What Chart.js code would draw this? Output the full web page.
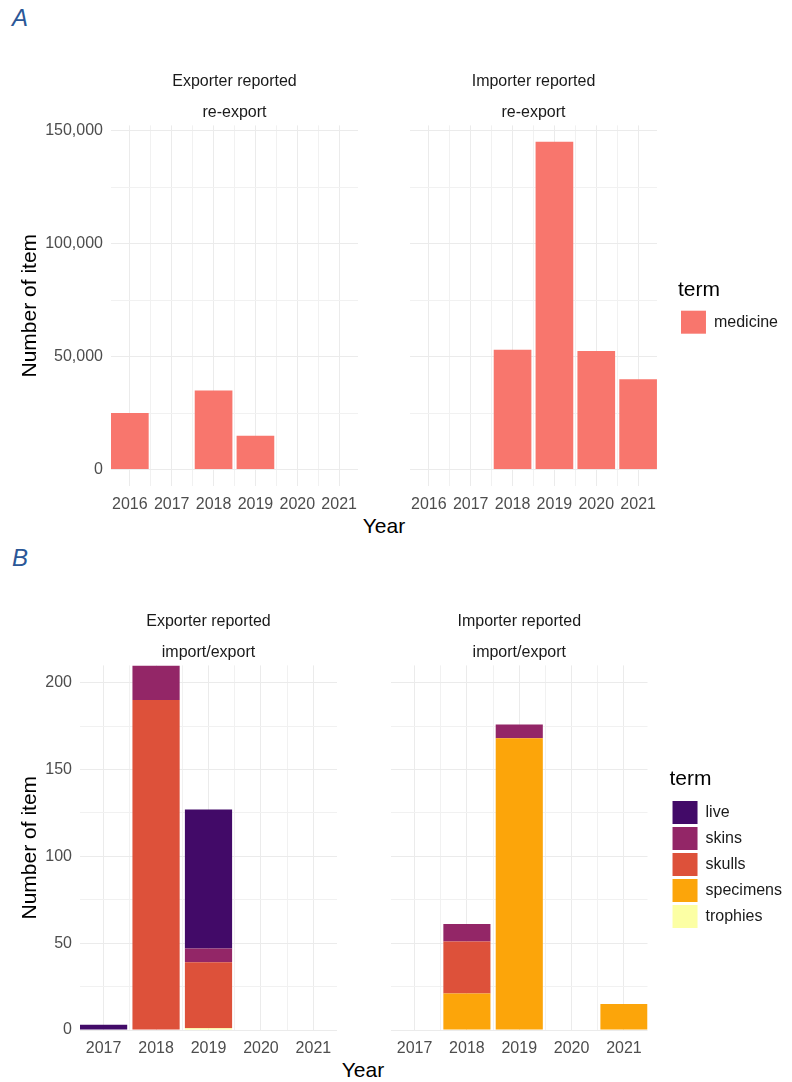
<!DOCTYPE html>
<html>
<head>
<meta charset="utf-8">
<title>Number of items by year and term</title>
<script src="https://cdn.jsdelivr.net/npm/chart.js@4.4.1/dist/chart.umd.min.js"></script>
<style>
  html, body { margin: 0; padding: 0; background: #ffffff; overflow: hidden; }
  body { position: relative; width: 792px; height: 1082px; font-family: "Liberation Sans", Arial, sans-serif; }
  canvas { position: absolute; }
  .tag { position: absolute; left: 12px; font-size: 24px; line-height: 24px; font-style: italic; color: #2B5797; }
  .xtitle { position: absolute; font-size: 21px; line-height: 21px; color: #000; transform: translateX(-50%); white-space: nowrap; }
</style>
</head>
<body>
<div class="tag" style="top:6px">A</div>
<div class="tag" style="top:546px">B</div>
<canvas id="aExp" width="358" height="456" style="left:0;top:60px"></canvas>
<canvas id="aImp" width="378" height="456" style="left:410px;top:60px"></canvas>
<div class="xtitle" style="left:384px;top:515px">Year</div>
<canvas id="bExp" width="337" height="460" style="left:0;top:600px"></canvas>
<canvas id="bImp" width="401" height="460" style="left:391px;top:600px"></canvas>
<div class="xtitle" style="left:363px;top:1059px">Year</div>
<script>
// A: re-export, only medicine
const yearsA = ['2016', '2017', '2018', '2019', '2020', '2021'];
const medicineExporter = [25000, null, 35000, 15000, null, null];
const medicineImporter = [null, null, 53000, 145000, 52500, 40000];
const yTicksA = [0, 25000, 50000, 75000, 100000, 125000, 150000];

// B: import/export by term
const yearsB = ['2017', '2018', '2019', '2020', '2021'];
const terms = ['live', 'skins', 'skulls', 'specimens', 'trophies'];
const termColors = ['#420A68', '#932667', '#DD513A', '#FCA50A', '#FCFFA4'];

const liveExporter      = [3, null, 80, null, null];
const skinsExporter     = [null, 20, 8, null, null];
const skullsExporter    = [null, 190, 38, null, null];
const specimensExporter = [null, null, null, null, null];
const trophiesExporter  = [null, null, 1, null, null];

const liveImporter      = [null, null, null, null, null];
const skinsImporter     = [null, 10, 8, null, null];
const skullsImporter    = [null, 30, null, null, null];
const specimensImporter = [null, 21, 168, null, 15];
const trophiesImporter  = [null, null, null, null, null];

const yTicksB = [0, 25, 50, 75, 100, 125, 150, 175, 200];

Chart.defaults.font.family = '"Liberation Sans", Arial, sans-serif';

const GRID = '#EBEBEB';
const GRID_MINOR = '#F1F1F1';

function toPoints(years, vals) {
  return years.map((_, i) => ({ x: i + 1, y: vals[i] }));
}

// linear x so the panel runs from the left edge of the first bar to the right edge of the last,
// with minor grid lines half way between the years
function xScale(years) {
  return {
    type: 'linear', min: 0.55, max: years.length + 0.45, bounds: 'data', offset: false, stacked: true,
    afterBuildTicks: s => {
      let t = [];
      years.forEach((_, i) => {
        t.push({ value: i + 1 });
        if (i < years.length - 1) t.push({ value: i + 1.5 });
      });
      s.ticks = t;
    },
    ticks: {
      autoSkip: false, maxRotation: 0, minRotation: 0, padding: 9, color: '#4D4D4D', font: { size: 16 },
      callback: v => Number.isInteger(v) ? years[v - 1] : ''
    },
    grid: { offset: false, drawTicks: false, color: c => (c.tick && Number.isInteger(c.tick.value)) ? GRID : GRID_MINOR },
    border: { display: false },
    afterFit: s => { s.height = 30; s.paddingLeft = 0; s.paddingRight = 0; }
  };
}

function yScale(min, max, ticks, every, width, showLabels, title) {
  return {
    type: 'linear', min: min, max: max, bounds: 'data', stacked: true,
    afterBuildTicks: s => { s.ticks = ticks.map(v => ({ value: v })); },
    ticks: {
      display: showLabels, padding: 8, color: '#4D4D4D', font: { size: 16 },
      callback: v => v % every === 0 ? v.toLocaleString('en-US') : ''
    },
    grid: { drawTicks: false, color: c => (c.tick && c.tick.value % every === 0) ? GRID : GRID_MINOR },
    border: { display: false },
    title: { display: !!title, text: title || '', color: '#000', font: { size: 21 }, padding: { top: 18, bottom: 0 } },
    afterFit: s => { s.width = width; s.paddingTop = 0; s.paddingBottom = 0; }
  };
}

// empty axis, only used to push the legend away from the panel
function gapScale(width) {
  return {
    type: 'linear', axis: 'y', position: 'right', display: true,
    grid: { display: false, drawTicks: false }, ticks: { display: false }, border: { display: false },
    afterFit: s => { s.width = width; s.paddingTop = 0; s.paddingBottom = 0; }
  };
}

function strips(top, bottom) {
  return {
    title: { display: true, text: top, fullSize: false, color: '#1A1A1A', font: { size: 16, weight: 'normal' }, padding: { top: 12, bottom: 0 } },
    subtitle: { display: true, text: bottom, fullSize: false, color: '#1A1A1A', font: { size: 16, weight: 'normal' }, padding: { top: 12, bottom: 3 } }
  };
}

function legend(show, titleTop, titleBottom) {
  return {
    display: show, position: 'right', align: 'start', maxWidth: 300, reverse: true,
    title: { display: true, text: 'term', position: 'start', color: '#000', font: { size: 21 }, padding: { top: titleTop, bottom: titleBottom } },
    labels: { boxWidth: 25, boxHeight: 23, padding: 3, color: '#1A1A1A', font: { size: 16 } }
  };
}

// the bar ruler also counts the half-year ticks, so one year = 2 of its steps
function bars(label, years, vals, color) {
  return { label: label, data: toPoints(years, vals), backgroundColor: color, borderWidth: 0, barPercentage: 0.9, categoryPercentage: 2 };
}

// stacking goes bottom-up, so the last term goes first
function termDatasets(series) {
  return terms.map((t, k) => bars(t, yearsB, series[k], termColors[k])).reverse();
}

function panel(id, datasets, scales, plugins) {
  return new Chart(document.getElementById(id), {
    type: 'bar',
    data: { datasets: datasets },
    options: {
      responsive: false,
      animation: false,
      scales: scales,
      plugins: Object.assign({ tooltip: { enabled: false } }, plugins)
    }
  });
}

panel('aExp', [bars('medicine', yearsA, medicineExporter, '#F8766D')], {
  x: xScale(yearsA),
  y: yScale(-7250, 152250, yTicksA, 50000, 111, true, 'Number of item')
}, Object.assign({ legend: { display: false } }, strips('Exporter reported', 're-export')));

panel('aImp', [bars('medicine', yearsA, medicineImporter, '#F8766D')], {
  x: xScale(yearsA),
  y: yScale(-7250, 152250, yTicksA, 50000, 0, false),
  gap: gapScale(21)
}, Object.assign({ legend: legend(true, 220, 2.5) }, strips('Importer reported', 're-export')));

panel('bExp', termDatasets([liveExporter, skinsExporter, skullsExporter, specimensExporter, trophiesExporter]), {
  x: xScale(yearsB),
  y: yScale(0, 210, yTicksB, 50, 80, true, 'Number of item')
}, Object.assign({ legend: { display: false } }, strips('Exporter reported', 'import/export')));

panel('bImp', termDatasets([liveImporter, skinsImporter, skullsImporter, specimensImporter, trophiesImporter]), {
  x: xScale(yearsB),
  y: yScale(0, 210, yTicksB, 50, 0, false),
  gap: gapScale(22)
}, Object.assign({ legend: legend(true, 168.8, 4) }, strips('Importer reported', 'import/export')));
</script>
</body>
</html>
